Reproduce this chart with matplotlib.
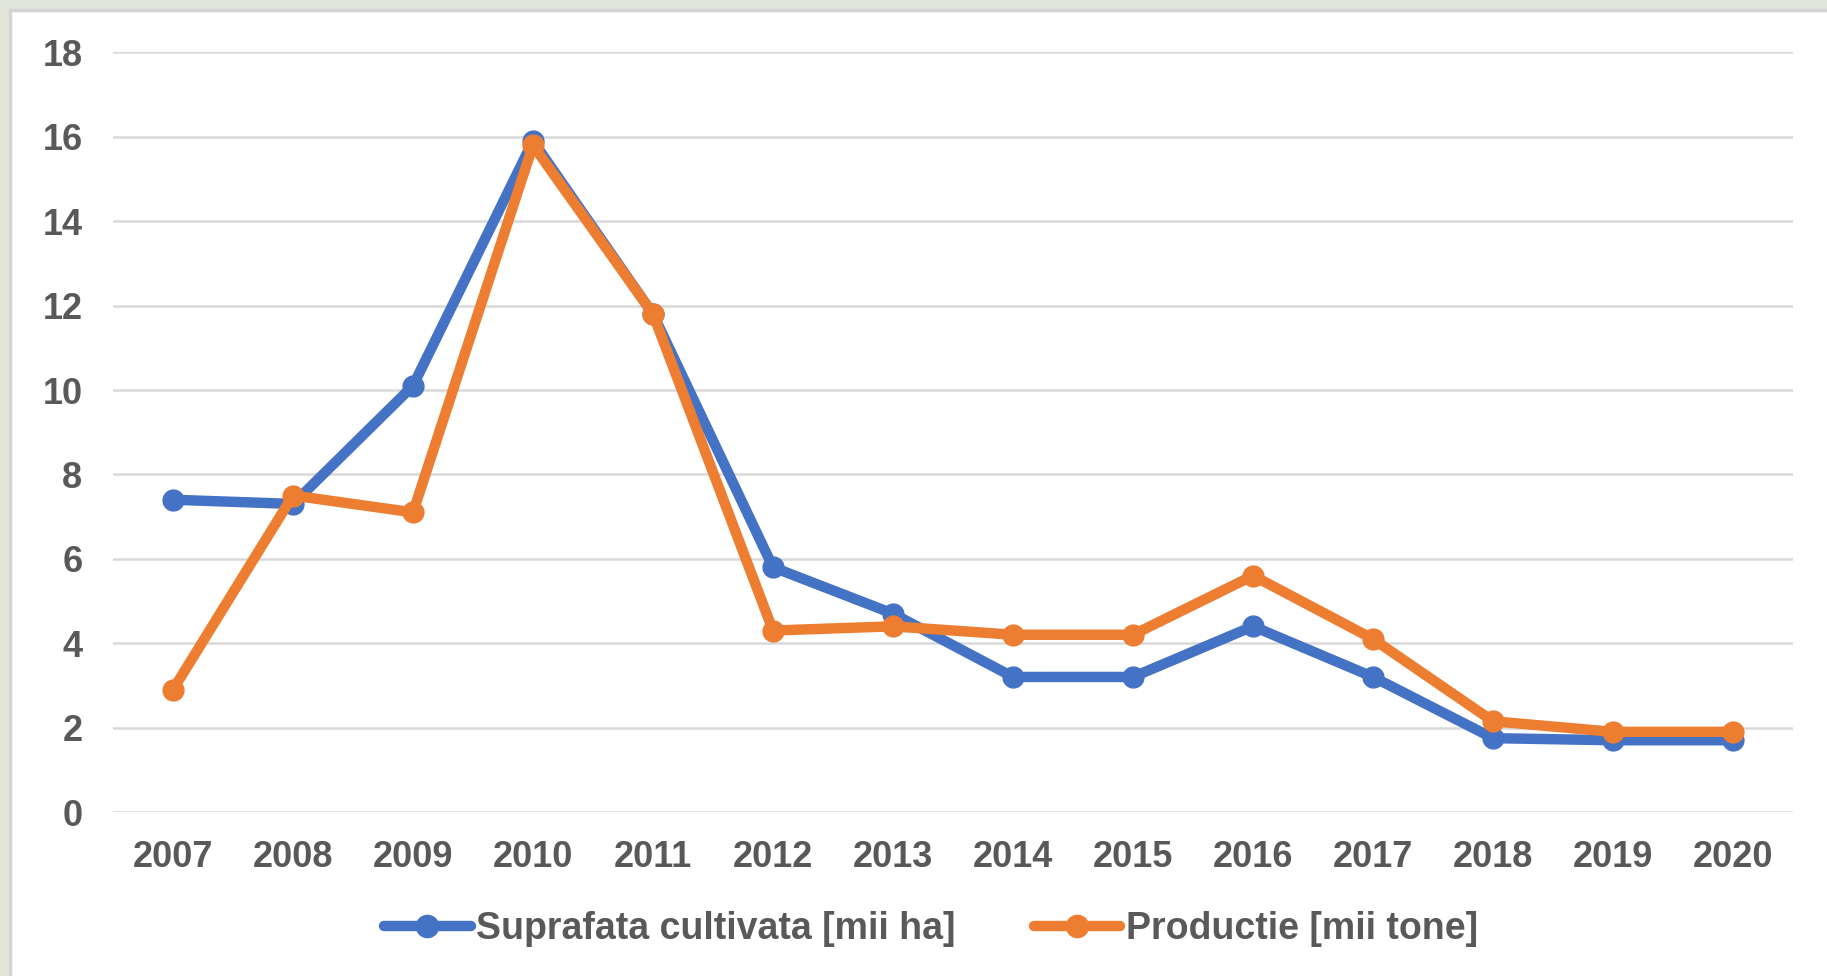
import matplotlib.pyplot as plt
from matplotlib.patches import Rectangle

years = ['2007', '2008', '2009', '2010', '2011', '2012', '2013',
         '2014', '2015', '2016', '2017', '2018', '2019', '2020']
suprafata = [7.4, 7.3, 10.1, 15.9, 11.8, 5.8, 4.7, 3.2, 3.2, 4.4, 3.2, 1.75, 1.7, 1.7]
productie = [2.9, 7.5, 7.1, 15.8, 11.8, 4.3, 4.4, 4.2, 4.2, 5.6, 4.1, 2.15, 1.9, 1.9]

blue = '#4472C4'
orange = '#ED7D31'
grey_text = '#595959'

plt.rcParams['font.family'] = ['Liberation Sans', 'DejaVu Sans']

fig = plt.figure(figsize=(18.27, 9.76), dpi=100, facecolor='#e2e6d9')

# white chart panel with a light border (background photo shows around it)
panel = Rectangle((10 / 1827, -0.05), 1.1, 1 - 10 / 976 + 0.05,
                  transform=fig.transFigure, facecolor='white',
                  edgecolor='#d4d4d4', linewidth=2.5, zorder=-1)
fig.patches.append(panel)

ax = fig.add_axes([113 / 1827, 1 - 812 / 976, 1680 / 1827, (812 - 52.4) / 976])
ax.set_facecolor('none')
ax.set_zorder(2)

x = range(len(years))
ax.plot(x, suprafata, color=blue, linewidth=7.5, marker='o', markersize=15,
        label='Suprafata cultivata [mii ha]', solid_capstyle='round',
        solid_joinstyle='round', zorder=3)
ax.plot(x, productie, color=orange, linewidth=7.5, marker='o', markersize=15,
        label='Productie [mii tone]', solid_capstyle='round',
        solid_joinstyle='round', zorder=4)

ax.set_xlim(-0.5, len(years) - 0.5)
ax.set_ylim(0, 18)
ax.set_yticks(range(0, 19, 2))
ax.set_xticks(list(x))
ax.set_xticklabels(years)

ax.grid(axis='y', color='#d9d9d9', linewidth=1.8)
ax.set_axisbelow(True)
for s in ax.spines.values():
    s.set_visible(False)

ax.tick_params(axis='both', length=0, labelsize=26, labelcolor=grey_text)
ax.tick_params(axis='y', pad=22)
ax.tick_params(axis='x', pad=20)
for lab in ax.get_xticklabels() + ax.get_yticklabels():
    lab.set_fontweight('bold')

leg = fig.legend(loc='center', bbox_to_anchor=(931 / 1827, 1 - 928.7 / 976),
                 ncol=2, frameon=False, handlelength=2.3, handletextpad=0.14,
                 columnspacing=2.1, prop={'size': 27, 'weight': 'bold'})
for t in leg.get_texts():
    t.set_color(grey_text)
for h in leg.legend_handles:
    h.set_markersize(16)

fig.savefig('out.png', dpi=100, facecolor=fig.get_facecolor())
